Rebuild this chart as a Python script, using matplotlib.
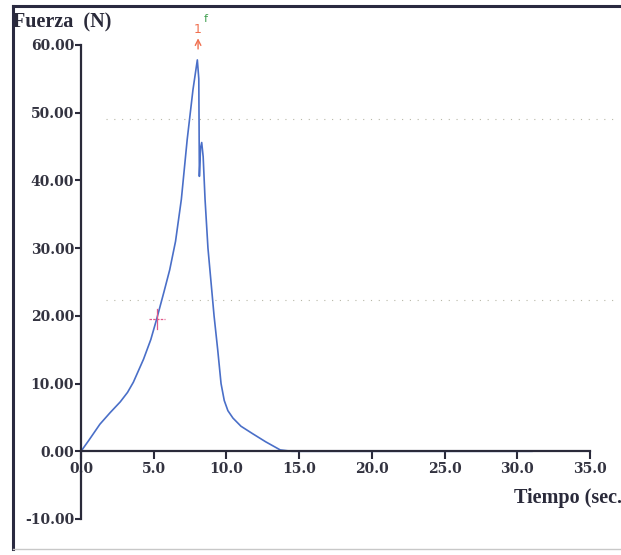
import numpy as np
import matplotlib.pyplot as plt
from matplotlib.lines import Line2D

# force curve
tiempo = [0.0, 0.5, 1.3, 2.0, 2.7, 3.2, 3.6, 4.3, 4.8, 5.2, 5.7, 6.1, 6.5, 6.9, 7.3,
          7.7, 8.0, 8.1, 8.14, 8.22, 8.3, 8.4, 8.53, 8.73, 9.15, 9.4, 9.63, 9.85,
          10.1, 10.45, 11.0, 11.8, 12.7, 13.7, 14.5, 20.0, 25.0, 31.0]
fuerza = [0.0, 1.5, 4.0, 5.7, 7.3, 8.7, 10.2, 13.6, 16.5, 19.5, 23.5, 26.8, 31.0, 37.2,
          46.0, 53.4, 57.8, 55.0, 40.6, 44.8, 45.6, 43.5, 37.2, 30.0, 20.0, 15.0,
          10.0, 7.5, 6.0, 4.9, 3.7, 2.6, 1.4, 0.2, 0.0, 0.0, 0.0, 0.0]

xticks = [0, 5, 10, 15, 20, 25, 30, 35]
yticks = [-10, 0, 10, 20, 30, 40, 50, 60]
dotted_levels = [49.0, 22.3]

fig = plt.figure(figsize=(6.21, 5.55), dpi=100)
ax = fig.add_axes([81/621, 1-519/555, (590-81)/621, (519-45)/555])
ax.set_xlim(0, 35)
ax.set_ylim(-10, 60)

ax.spines['top'].set_visible(False)
ax.spines['right'].set_visible(False)
ax.spines['bottom'].set_position(('data', 0))
ax.spines['bottom'].set_color('#2a2a3a')
ax.spines['left'].set_color('#2a2a3a')
ax.spines['bottom'].set_linewidth(1.6)
ax.spines['left'].set_linewidth(1.6)

tickfont = dict(family=['DejaVu Serif Condensed', 'DejaVu Serif'],
                weight='bold', size=10)
ax.set_xticks(xticks)
ax.set_xticklabels([f"{v:.1f}" for v in xticks], **tickfont, color='#333340')
ax.set_yticks(yticks)
ax.set_yticklabels([f"{v:.2f}" for v in yticks], **tickfont, color='#333340')
ax.tick_params(axis='x', direction='out', length=6, width=1.5, color='#2a2a3a', pad=2)
ax.tick_params(axis='y', direction='out', length=4, width=1.5, color='#2a2a3a', pad=1)

for lvl in dotted_levels:
    ax.axhline(lvl, xmin=0.05, xmax=1.05, color='#b8b8a8', lw=0.8,
               linestyle=(0, (1, 6)), clip_on=False)

ax.plot(tiempo, fuerza, color='#4a6fc8', lw=1.2)

# markers
ax.plot([4.7, 5.8], [19.5, 19.5], color='#e05a8a', lw=0.9, linestyle=(0, (2, 1)))
ax.plot([5.2, 5.2], [18.0, 21.0], color='#e05a8a', lw=0.9)
ax.annotate('', xy=(8.05, 61.4), xytext=(8.05, 59.0), annotation_clip=False,
            arrowprops=dict(arrowstyle='->', color='#f07050', lw=1.0))
ax.text(8.05, 62.3, '1', color='#f07050', fontsize=9, ha='center', va='center',
        clip_on=False)
ax.text(8.55, 63.8, 'f', color='#40a050', fontsize=8, ha='center', va='center',
        clip_on=False)

serif = dict(family='Liberation Serif', weight='bold')
fig.text(13/621, 1-22/555, 'Fuerza  (N)', fontsize=14.5, va='center', ha='left',
         color='#2a2a3a', **serif)
fig.text(514/621, 1-498/555, 'Tiempo (sec.', fontsize=14.5, va='center', ha='left',
         color='#2a2a3a', **serif)

# outer frame
fig.add_artist(Line2D([13/621, 1.0], [1-6/555, 1-6/555], color='#2a2a40', lw=2.2))
fig.add_artist(Line2D([13/621, 13/621], [1-6/555, 1-549/555], color='#2a2a40', lw=2.2))
fig.add_artist(Line2D([13/621, 1.0], [1-549/555, 1-549/555], color='#c8c8c8', lw=1.0))

fig.savefig('out.png', dpi=100)
